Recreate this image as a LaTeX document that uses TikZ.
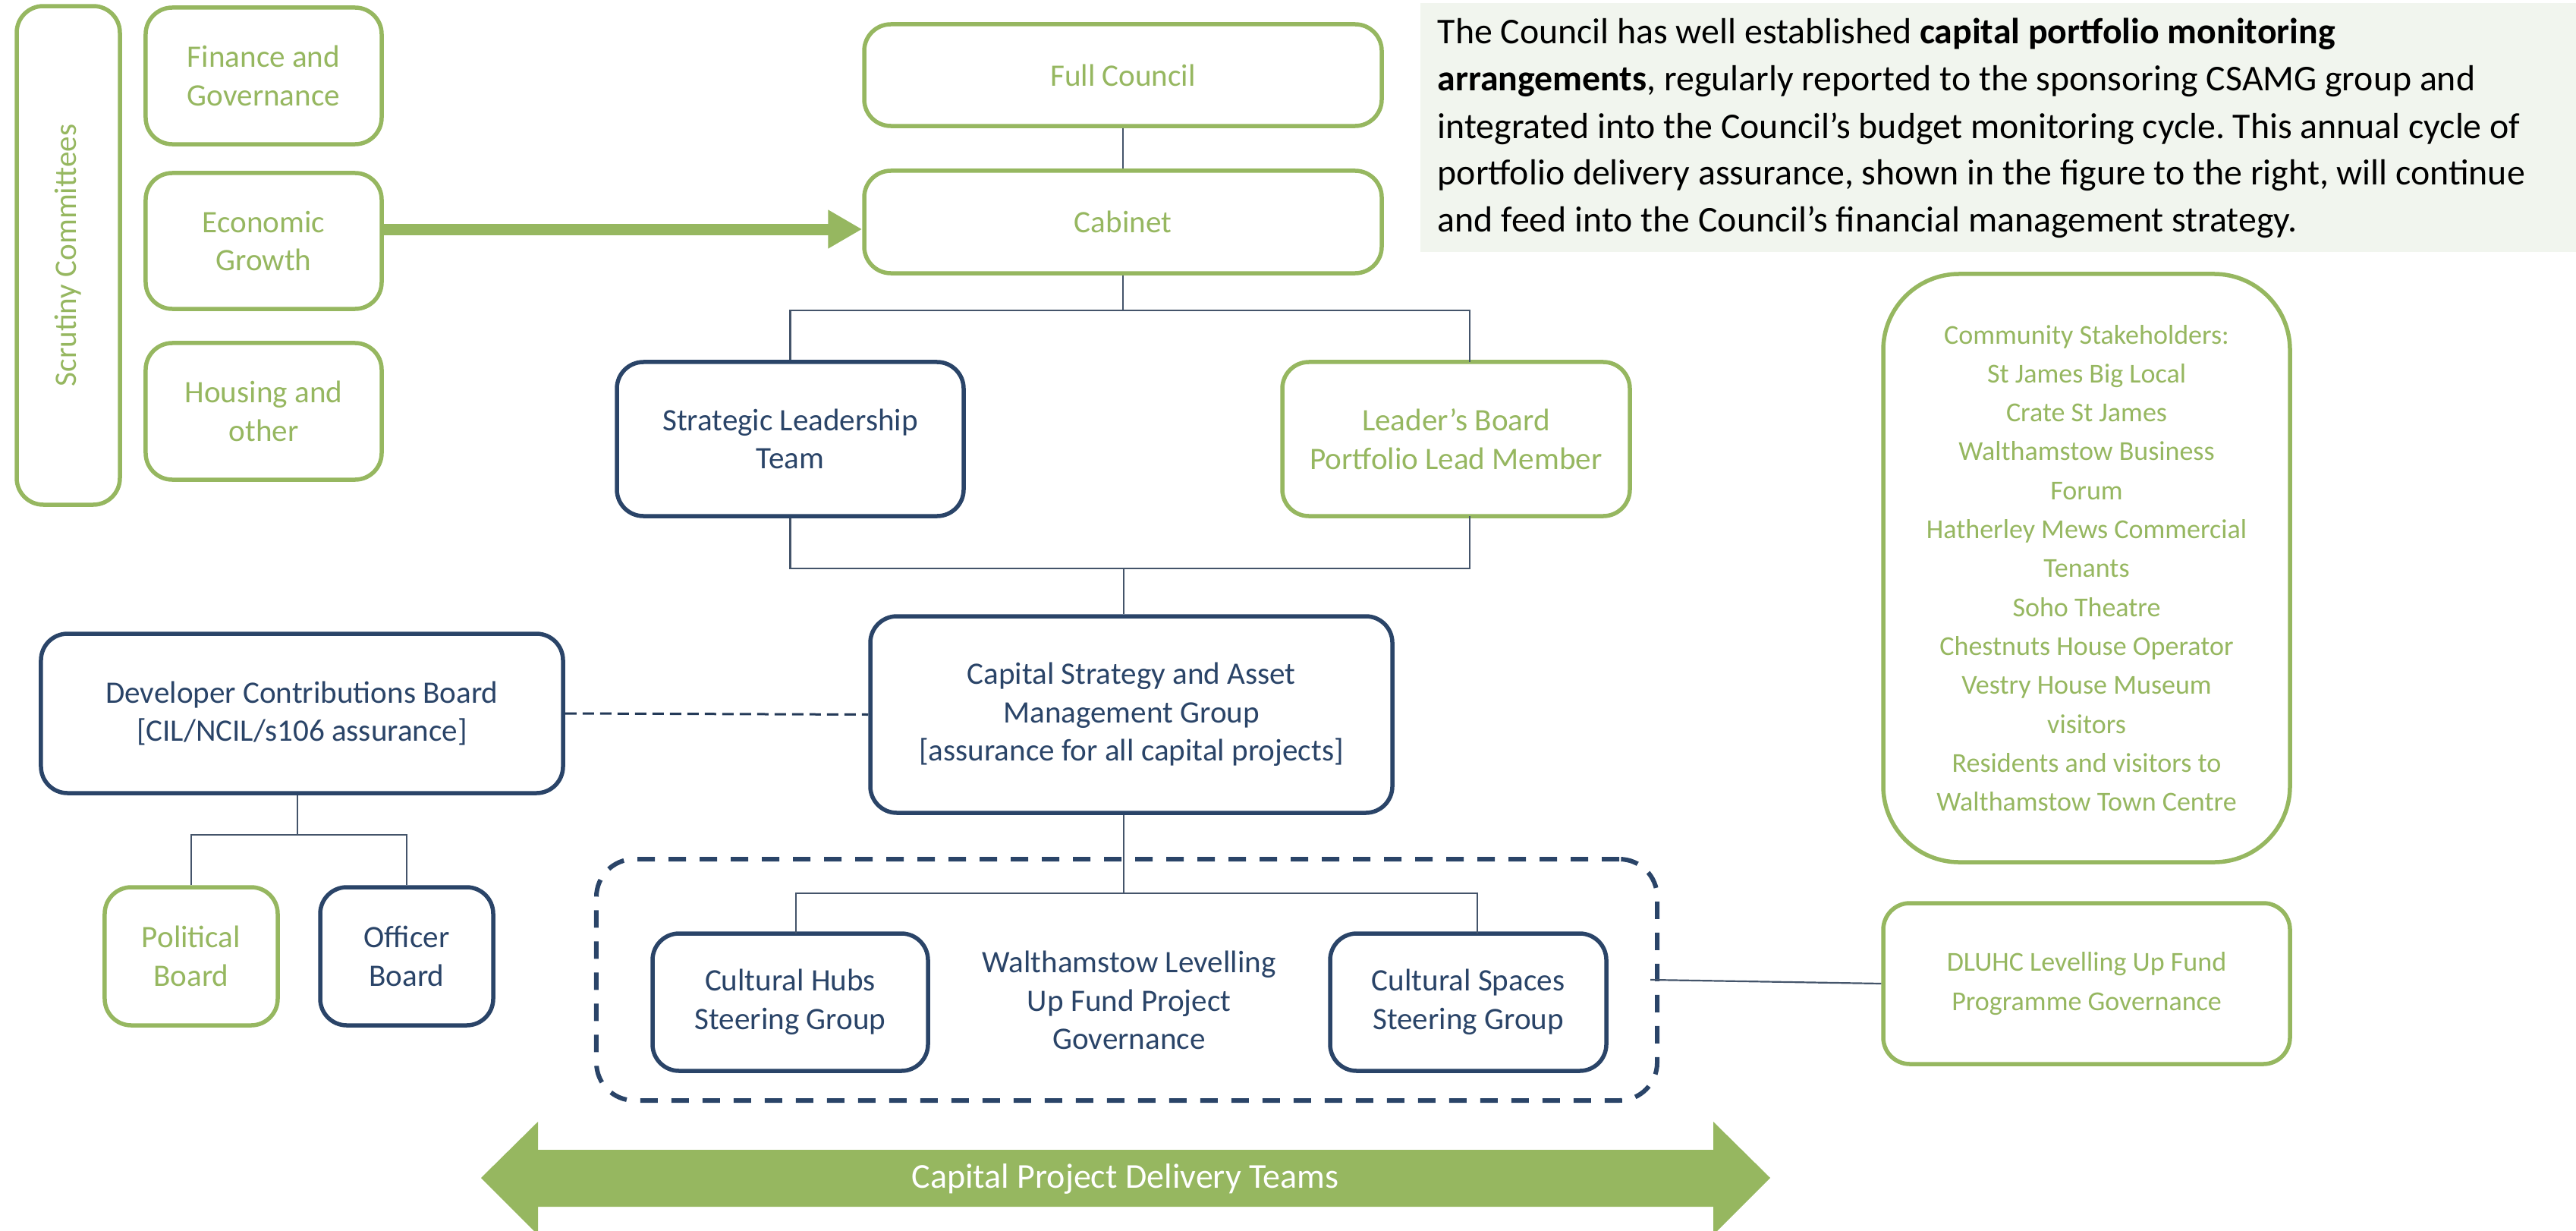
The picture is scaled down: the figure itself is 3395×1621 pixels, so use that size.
\documentclass[tikz,border=0pt]{standalone}
\usepackage{fontspec}
\setmainfont{Carlito}
\usetikzlibrary{arrows.meta}
\definecolor{lgreen}{HTML}{96B760}
\definecolor{navy}{HTML}{2A4468}
\definecolor{linkc}{HTML}{44546A}
\definecolor{notebg}{HTML}{F1F5EE}

% box from corner (x1,y1) to corner (x2,y2), in pixel units
\newcommand\boxnode[7]{%
  \pgfmathsetmacro\bw{(#4-#2)*0.1}%
  \pgfmathsetmacro\bh{(#5-#3)*0.1}%
  \pgfmathsetmacro\bx{(#2+#4)/2}%
  \pgfmathsetmacro\by{(#3+#5)/2}%
  \node[#6, minimum width=\bw mm, minimum height=\bh mm] (#1) at (\bx,\by) {#7};}

\begin{document}
\frenchspacing
\begin{tikzpicture}[x=0.1mm,y=-0.1mm,
  basebox/.style={draw, rounded corners=3.5mm, line width=0.55mm, fill=white,
    inner sep=0pt, align=center, font=\fontsize{11.7}{14.4}\selectfont},
  gbox/.style={basebox, draw=lgreen, text=lgreen},
  nbox/.style={basebox, draw=navy, text=navy},
  smalltext/.style={font=\fontsize{10.25}{14.6}\selectfont},
  groupbox/.style={draw=navy, line width=0.6mm, rounded corners=5mm,
    dash pattern=on 2.3mm off 1.8mm, inner sep=0pt},
  notebox/.style={fill=notebg, draw=none, inner sep=0pt},
  para/.style={anchor=base west, inner sep=0pt, text=black,
    font=\fontsize{13.6}{17.5}\selectfont},
  conn/.style={draw=linkc, line width=0.22mm},
  dashconn/.style={draw=navy!85!black, line width=0.3mm, dash pattern=on 1.5mm off 0.8mm},
  feed/.style={draw=lgreen, line width=1.5mm, -{Triangle[length=4.5mm,width=4.8mm]}},
  bandtext/.style={text=white, inner sep=0pt, font=\fontsize{13.1}{16}\selectfont}
]
\useasboundingbox (0,0) rectangle (3395,1621);

% explanatory note, top right
\boxnode{note}{1872}{4}{3395}{332}{notebox}{}
\node[para] (p1) at (1894,58) {The Council has well established \textbf{capital portfolio monitoring}};
\node[para] (p2) at (1894,120) {\textbf{arrangements}, regularly reported to the sponsoring CSAMG group and};
\node[para] (p3) at (1894,182) {integrated into the Council’s budget monitoring cycle. This annual cycle of};
\node[para] (p4) at (1894,243) {portfolio delivery assurance, shown in the figure to the right, will continue};
\node[para] (p5) at (1894,305) {and feed into the Council’s financial management strategy.};

% scrutiny committees
\node[gbox, rotate=90, minimum width=65.7mm, minimum height=13.6mm] (scr) at (90,336.5) {Scrutiny Committees};
\boxnode{fin}{192}{10}{503}{190}{gbox}{Finance and\\Governance}
\boxnode{eco}{192}{228}{503}{407}{gbox}{Economic\\Growth}
\boxnode{hou}{192}{452}{503}{632}{gbox}{Housing and\\other}

% main chain
\boxnode{full}{1139}{32}{1821}{166}{gbox}{Full Council}
\boxnode{cab}{1139}{225}{1821}{360}{gbox}{Cabinet}
\boxnode{slt}{813}{477}{1270}{680}{nbox}{Strategic Leadership\\Team}
\boxnode{lead}{1690}{477}{2148}{680}{gbox}{Leader’s Board\\Portfolio Lead Member}
\boxnode{csamg}{1147}{812}{1835}{1071}{nbox}{Capital Strategy and Asset\\Management Group\\{[}assurance for all capital projects{]}}

% developer contributions
\boxnode{dcb}{54}{835}{742}{1045}{nbox}{Developer Contributions Board\\{[}CIL/NCIL/s106 assurance{]}}
\boxnode{pol}{138}{1169}{366}{1351}{gbox}{Political\\Board}
\boxnode{off}{422}{1169}{650}{1351}{nbox}{Officer\\Board}

% project governance group
\boxnode{grp}{786}{1132}{2184}{1450}{groupbox}{}
\boxnode{hubs}{860}{1230}{1223}{1411}{nbox}{Cultural Hubs\\Steering Group}
\boxnode{spaces}{1753}{1230}{2117}{1411}{nbox}{Cultural Spaces\\Steering Group}
\node[text=navy, align=center, inner sep=0pt, font=\fontsize{11.7}{14.4}\selectfont] (gov) at (1488,1318)
  {Walthamstow Levelling\\Up Fund Project\\Governance};

% stakeholders and funder
\boxnode{comm}{2482}{361}{3018}{1136}{gbox, smalltext, rounded corners=10mm}{Community Stakeholders:\\St James Big Local\\Crate St James\\Walthamstow Business\\Forum\\Hatherley Mews Commercial\\Tenants\\Soho Theatre\\Chestnuts House Operator\\Vestry House Museum\\visitors\\Residents and visitors to\\Walthamstow Town Centre}
\boxnode{dluhc}{2482}{1190}{3018}{1402}{gbox, smalltext}{DLUHC Levelling Up Fund\\Programme Governance}

% connector junctions
\coordinate (tb) at (1480,409);
\coordinate (lt) at (1937,477);
\coordinate (lb) at (1937,680);
\coordinate (mb) at (1481,749);
\coordinate (gb) at (1481,1177);
\coordinate (ht) at (1049,1230);
\coordinate (st) at (1947,1230);
\coordinate (db) at (392,1100);
\coordinate (gr) at (2175,1291);

\draw[conn] (full.south) -- (cab.north);
\draw[conn] (cab.south) -- (tb);
\draw[conn] (slt.north) |- (lt |- tb) -- (lt);
\draw[conn] (slt.south) |- (lb |- mb) -- (lb);
\draw[conn] (mb) -- (mb |- csamg.north);
\draw[conn] (mb |- csamg.south) -- (gb);
\draw[conn] (ht) |- (st |- gb) -- (st);
\draw[dashconn] (dcb.east) -- (csamg.west);
\draw[conn] (db |- dcb.south) -- (db);
\draw[conn] (pol.north) |- (db) -| (off.north);
\draw[conn] (gr) -- (dluhc.west);

% scrutiny feed into cabinet
\draw[feed] (eco.east |- 0,302) -- (cab.west |- 0,302);

% delivery teams band
\fill[lgreen] (634,1552) -- (709,1478) -- (709,1515) -- (2258,1515) -- (2258,1478)
  -- (2333,1552) -- (2258,1627) -- (2258,1590) -- (709,1590) -- (709,1627) -- cycle;
\node[bandtext] (cpdt) at (1483,1553) {Capital Project Delivery Teams};
\end{tikzpicture}
\end{document}
